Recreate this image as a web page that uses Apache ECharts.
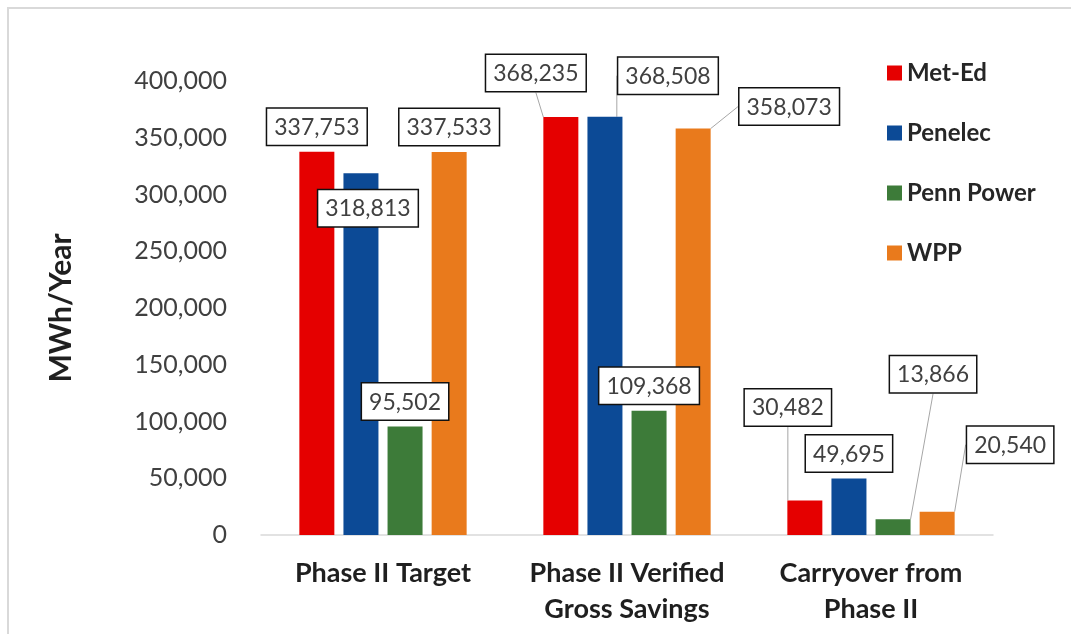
<!DOCTYPE html>
<html>
<head>
<meta charset="utf-8">
<script src="https://cdn.jsdelivr.net/npm/echarts@6/dist/echarts.min.js"></script>
<style>
html,body{margin:0;padding:0;background:#fff;}
#wrap{position:relative;width:1071px;height:634px;overflow:hidden;}
#frame{position:absolute;left:7px;top:7px;width:1100px;height:700px;border-top:2px solid #d9d9d9;border-left:2px solid #d9d9d9;}
#chart{position:absolute;left:0;top:0;width:1071px;height:634px;}
</style>
</head>
<body>
<div id="wrap"><div id="frame"></div><div id="chart"></div></div>
<script>
const categories = ['Phase II Target', 'Phase II Verified\nGross Savings', 'Carryover from\nPhase II'];
const seriesNames = ['Met-Ed', 'Penelec', 'Penn Power', 'WPP'];
const metEd = [337753, 368235, 30482];
const penelec = [318813, 368508, 49695];
const pennPower = [95502, 109368, 13866];
const wpp = [337533, 358073, 20540];
const yTicks = [0, 50000, 100000, 150000, 200000, 250000, 300000, 350000, 400000];

const colors = ['#e50000', '#0c4a96', '#3d7b39', '#e97a1c'];
const values = [metEd, penelec, pennPower, wpp];

// label displacement (layout only) [series][category] -> [dx, dy, showGuideLine]
const labelShift = [
  [[0, 0, false], [-25, -19, true], [-17, -68, true]],
  [[7, 60, false], [63, -16, true], [0, 0, false]],
  [[0, 0, false], [0, 0, false], [40, -120, true]],
  [[0, 0, false], [96, 3, true], [73, -42, true]]
];

const chart = echarts.init(document.getElementById('chart'), null, {renderer: 'canvas'});
const fmt = v => Number(v).toLocaleString('en-US');

const series = seriesNames.map((name, s) => ({
  name: name,
  type: 'bar',
  barWidth: 35,
  barGap: '26%',
  itemStyle: {color: colors[s]},
  data: values[s].map((v, i) => ({
    value: v,
    labelLine: {show: labelShift[s][i][2]}
  })),
  label: {
    show: true,
    position: 'top',
    distance: 7,
    formatter: p => fmt(p.value),
    fontFamily: 'Lato',
    fontSize: 23,
    color: '#404040',
    backgroundColor: '#ffffff',
    borderColor: '#111111',
    borderWidth: 1.5,
    padding: [7, 7, 6, 7]
  },
  labelLine: {
    show: true,
    lineStyle: {color: '#a6a6a6', width: 1}
  },
  labelLayout: function (params) {
    const sh = labelShift[params.seriesIndex][params.dataIndex];
    return {dx: sh[0], dy: sh[1]};
  },
  z: 2
}));

const option = {
  animation: false,
  backgroundColor: 'transparent',
  grid: {left: 261, right: 78, top: 81, bottom: 99, containLabel: false},
  legend: {
    orient: 'vertical',
    left: 882,
    top: 56,
    icon: 'rect',
    itemWidth: 15,
    itemHeight: 15,
    itemGap: 36,
    textStyle: {fontFamily: 'Lato', fontWeight: 'bold', fontSize: 24, color: '#262626'},
    data: seriesNames
  },
  xAxis: {
    type: 'category',
    data: categories,
    axisTick: {show: false},
    axisLine: {lineStyle: {color: '#d9d9d9', width: 1.5}},
    axisLabel: {
      margin: 20,
      interval: 0,
      fontFamily: 'Lato',
      fontWeight: 'bold',
      fontSize: 27,
      lineHeight: 36,
      color: '#1f1f1f'
    }
  },
  yAxis: {
    type: 'value',
    min: yTicks[0],
    max: yTicks[yTicks.length - 1],
    interval: yTicks[1] - yTicks[0],
    name: 'MWh/Year',
    nameLocation: 'middle',
    nameGap: 185,
    nameTextStyle: {fontFamily: 'Lato', fontWeight: 'bold', fontSize: 30, color: '#1f1f1f'},
    axisLine: {show: false},
    axisTick: {show: false},
    splitLine: {show: false},
    axisLabel: {
      margin: 34,
      fontFamily: 'Lato',
      fontSize: 25,
      color: '#404040',
      formatter: v => fmt(v)
    }
  },
  series: series
};
chart.setOption(option);
</script>
</body>
</html>
